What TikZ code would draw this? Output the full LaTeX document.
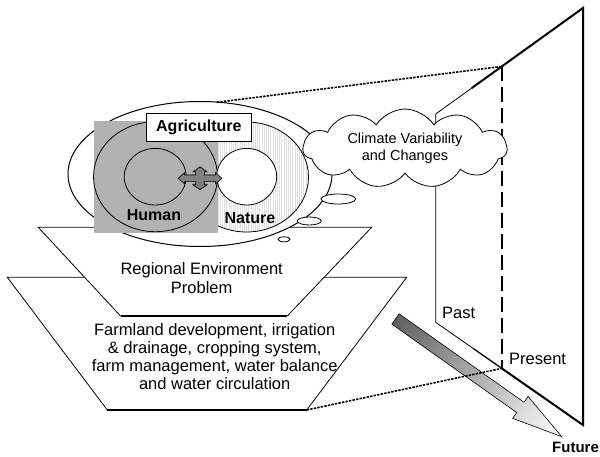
\documentclass[tikz,border=0pt]{standalone}
\usepackage{fontspec}
\setmainfont{Liberation Sans}
\usetikzlibrary{shapes.symbols,patterns.meta,calc}
\begin{document}
\begin{tikzpicture}[x=1pt,y=-1pt,
  thinline/.style={line width=0.8pt},
  heavy/.style={line width=2pt},
  dotline/.style={line width=1.6pt, dash pattern=on 2.4pt off 1.2pt},
  txt/.style={font=\fontsize{16.5}{18}\selectfont, align=center, inner sep=0pt},
  lbl/.style={font=\fontsize{16.5}{18}\selectfont, inner sep=0pt},
  boldlbl/.style={font=\bfseries\fontsize{16}{18}\selectfont, inner sep=0pt}]
\useasboundingbox (0,0) rectangle (600,457);

% ---- time plane ----
\coordinate (TL) at (435.7,114);
\coordinate (TR) at (583,8);
\coordinate (BR) at (583,425);
\coordinate (BL) at (435.7,322.3);
\coordinate (DT) at ($(TL)!0.4487!(TR)$);
\coordinate (DB) at ($(BL)!0.4487!(BR)$);
\coordinate (TK) at ($(TL)!0.245!(TR)$);
\coordinate (BK) at ($(BL)!0.255!(BR)$);
\draw[thinline] (TK) -- (TL) -- (BL) -- (BK);
\draw[heavy, line join=miter] (TK) -- (TR) -- (BR) -- (DB);
\draw[line width=1.3pt] (BK) -- (DB);
\draw[line width=2.4pt, dash pattern=on 15pt off 6pt] (DT) -- (DB);
\node[lbl, anchor=base west] (past) at (442,318.3) {Past};
\node[lbl, anchor=base west] (present) at (509,364) {Present};
\node[boldlbl, font=\bfseries\fontsize{15}{17}\selectfont, anchor=base west] (future) at (552,452.4) {Future};

% ---- lower trapezoid ----
\coordinate (lowA) at (107.3,410);
\coordinate (lowB) at (7.3,277.3);
\coordinate (lowC) at (406.7,277.3);
\coordinate (lowD) at (306.7,410);
\fill[white] (lowA) -- (lowB) -- (lowC) -- (lowD) -- cycle;
\draw[thinline] (lowA) -- (lowB) -- (lowC) -- (lowD);
\draw[line width=1.8pt] (lowA) -- (lowD);
\node[txt] (farm) at (214.7,356.3) {Farmland development, irrigation\\\& drainage, cropping system,\\farm management, water balance\\and water circulation};

% ---- upper trapezoid ----
\coordinate (upA) at (120.5,316);
\coordinate (upB) at (38.3,227.3);
\coordinate (upC) at (371.7,227.3);
\coordinate (upD) at (287.3,316);
\fill[white] (upA) -- (upB) -- (upC) -- (upD) -- cycle;
\draw[thinline] (upA) -- (upB) -- (upC) -- (upD);
\draw[line width=1.8pt] (upA) -- (upD);
\node[txt, font=\fontsize{16.5}{19}\selectfont] (reg) at (201.7,277.8) {Regional Environment\\Problem};

% ---- big ellipse ----
\draw[line width=1pt, fill=white] (200,174) ellipse (132 and 72.5);
\coordinate (ellTop) at (216.7,102.3);

% ---- nature ring ----
\path[pattern={Lines[angle=90,distance=2.2pt,line width=0.6pt]}, pattern color=gray!25] (246.5,177) ellipse (62 and 55);
\draw[thinline] (246.5,177) ellipse (62 and 55);

% ---- human (gray) ----
\fill[black!30] (94,121) rectangle (218,233.3);
\draw[thinline] (155.5,176.7) ellipse (62 and 55);
\draw[thinline] (155.2,176.7) ellipse (31 and 28.3);
\draw[thinline, fill=white] (246.7,176.7) ellipse (30 and 28.3);

\node[draw, fill=white, thinline, minimum width=105.7pt, minimum height=28.4pt, inner sep=0pt,
      font=\bfseries\fontsize{16}{18}\selectfont] (agri) at (198.85,127.5) {Agriculture};

% four-way arrow
\draw[fill=black!50, line width=0.6pt, shift={(200,178.3)}]
  (0,-11.5) -- (7,-6.5) -- (4.5,-6.5) -- (4.5,-3.3) -- (15.5,-3.3) -- (15.5,-5.5) -- (22,0)
  -- (15.5,5.5) -- (15.5,3.3) -- (4.5,3.3) -- (4.5,6.5) -- (7,6.5) -- (0,11.5)
  -- (-7,6.5) -- (-4.5,6.5) -- (-4.5,3.3) -- (-15.5,3.3) -- (-15.5,5.5) -- (-22,0)
  -- (-15.5,-5.5) -- (-15.5,-3.3) -- (-4.5,-3.3) -- (-4.5,-6.5) -- (-7,-6.5) -- cycle;

\node[boldlbl, anchor=base] (human) at (154,220.7) {Human};
\node[boldlbl, anchor=base] (nature) at (250,224) {Nature};

% ---- cloud ----
\node[cloud, draw, fill=white, thinline, cloud puffs=11, cloud puff arc=115, aspect=2.9,
      minimum width=204pt, minimum height=70pt, inner sep=0pt, align=center,
      font=\fontsize{14.5}{16.6}\selectfont] (cloud) at (405,148.5) {Climate Variability\\and Changes};
\draw[thinline, fill=white] (338.3,199) ellipse (17.3 and 5);
\draw[thinline, fill=white] (309.3,221) ellipse (12 and 4);
\draw[thinline, fill=white] (284,239.3) ellipse (6 and 2.5);

% ---- time arrow ----
\begin{scope}[transform canvas={shift={(395.5,319)},rotate=-35.3}]
\shade[left color=black!62, right color=white, draw=black, line width=0.6pt]
  (0,6.3) -- (153,6.3) -- (153,13.4) -- (203.7,0) -- (153,-13.4) -- (153,-6.3) -- (0,-6.3) -- cycle;
\end{scope}

% ---- dotted projection lines ----
\draw[dotline] (ellTop) -- (DT);
\draw[dotline] (lowD) -- (DB);
\end{tikzpicture}
\end{document}
